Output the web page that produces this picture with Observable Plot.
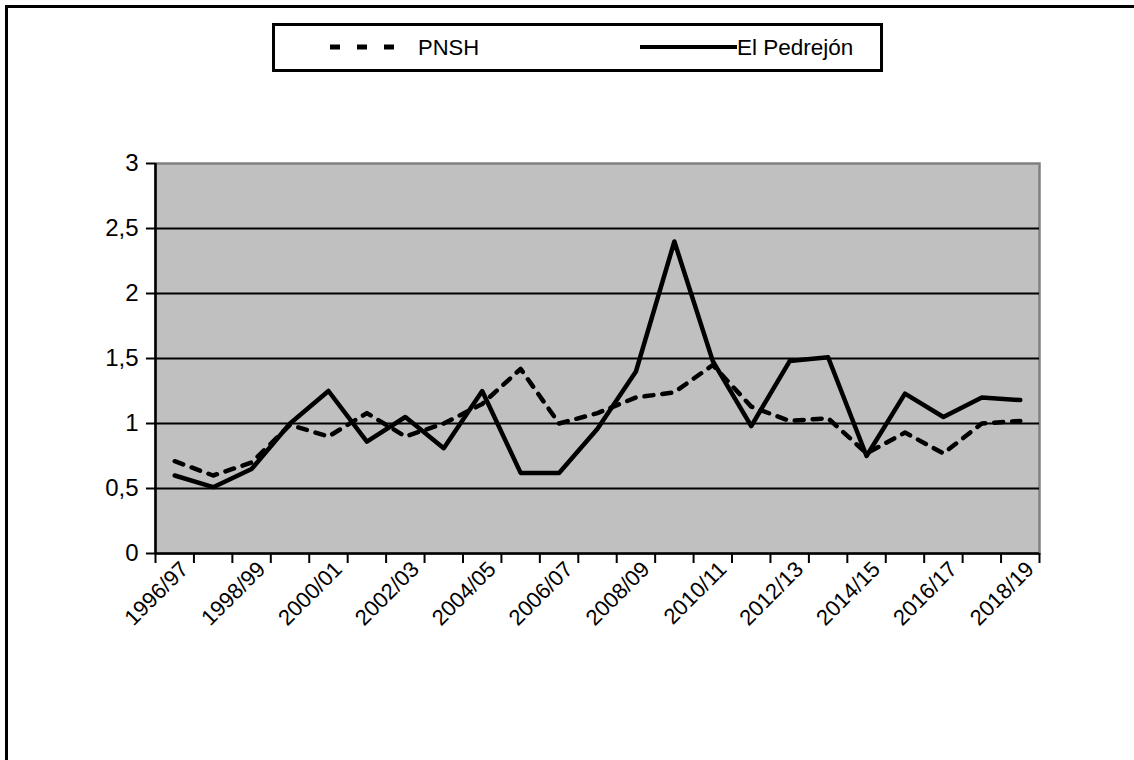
<!DOCTYPE html>
<html><head><meta charset="utf-8">
<script src="https://cdn.jsdelivr.net/npm/d3@7"></script>
<script src="https://cdn.jsdelivr.net/npm/@observablehq/plot@0.6"></script>
<style>
body{margin:0;background:#fff;font-family:"Liberation Sans",Arial,sans-serif;}
#wrap{position:relative;width:1134px;height:760px;overflow:hidden;}
#border{position:absolute;left:5px;top:5px;width:1300px;height:900px;border-left:3px solid #000;border-top:3px solid #000;}
#legend{position:absolute;left:272px;top:23px;}
#chart{position:absolute;left:0;top:0;}
</style></head>
<body>
<div id="wrap"><div id="border"></div><div id="chart"></div><div id="legend"></div></div>
<script>
const seasons = ["1996/97","1997/98","1998/99","1999/00","2000/01","2001/02","2002/03","2003/04","2004/05","2005/06","2006/07","2007/08","2008/09","2009/10","2010/11","2011/12","2012/13","2013/14","2014/15","2015/16","2016/17","2017/18","2018/19"];
const pnsh     = [0.71,0.60,0.70,0.99,0.90,1.08,0.90,1.00,1.15,1.42,1.00,1.08,1.20,1.24,1.45,1.13,1.02,1.04,0.77,0.93,0.77,1.00,1.02];
const pedrejon = [0.60,0.51,0.65,1.00,1.25,0.86,1.05,0.81,1.25,0.62,0.62,0.96,1.40,2.40,1.48,0.98,1.48,1.51,0.75,1.23,1.05,1.20,1.18];
const seriesNames = ["PNSH","El Pedrejón"];
const yTicks = [0,0.5,1,1.5,2,2.5,3];

const n = seasons.length;
const idx = d3.range(n);
const labelIdx = idx.filter(i => i % 2 === 0);
const edgeTicks = d3.range(-0.5, n, 1);

const chart = Plot.plot({
  width:1134, height:760,
  marginLeft:155, marginRight:95, marginTop:163, marginBottom:207,
  style:{fontFamily:"Liberation Sans, Arial, sans-serif", fontSize:"22px", color:"#000", background:"transparent", overflow:"visible"},
  x:{domain:[-0.5, n-0.5]},
  y:{domain:[0,3]},
  marks:[
    Plot.frame({fill:"#c0c0c0", stroke:"#808080", strokeWidth:2.5}),
    Plot.ruleY(yTicks.filter(v => v > 0 && v < 3), {stroke:"#000", strokeWidth:2}),
    Plot.axisY({ticks:yTicks, tickFormat:v => String(v).replace(".", ","), tickSize:9, tickPadding:8, strokeWidth:2, label:null, fontSize:24}),
    Plot.axisX({ticks:edgeTicks, tickFormat:() => "", tickSize:10, strokeWidth:2, label:null}),
    Plot.axisX({ticks:labelIdx, tickFormat:i => seasons[i], tickSize:0, tickRotate:-45, tickPadding:12, dx:10, label:null, fontSize:22}),
    Plot.ruleX([-0.5], {stroke:"#000", strokeWidth:2.5}),
    Plot.ruleY([0], {stroke:"#000", strokeWidth:2.5}),
    Plot.line(idx, {x:i => i, y:i => pnsh[i], stroke:"#000", strokeWidth:4.5, strokeDasharray:"9,9"}),
    Plot.line(idx, {x:i => i, y:i => pedrejon[i], stroke:"#000", strokeWidth:4.5})
  ]
});
document.getElementById("chart").appendChild(chart);

// legend
const lg = d3.select("#legend").append("svg").attr("width", 614).attr("height", 52);
lg.append("rect").attr("x",1.5).attr("y",1.5).attr("width",608).attr("height",46).attr("fill","#fff").attr("stroke","#000").attr("stroke-width",3);
lg.append("line").attr("x1",58).attr("x2",130).attr("y1",24).attr("y2",24).attr("stroke","#000").attr("stroke-width",5).attr("stroke-dasharray","10,17");
lg.append("text").attr("x",146).attr("y",24).attr("dy","0.35em").attr("font-size",22).attr("font-family","Liberation Sans, Arial").text(seriesNames[0]);
lg.append("line").attr("x1",368).attr("x2",465).attr("y1",24).attr("y2",24).attr("stroke","#000").attr("stroke-width",4);
lg.append("text").attr("x",465).attr("y",24).attr("dy","0.35em").attr("font-size",22.5).attr("font-family","Liberation Sans, Arial").text(seriesNames[1]);
</script>
</body></html>
